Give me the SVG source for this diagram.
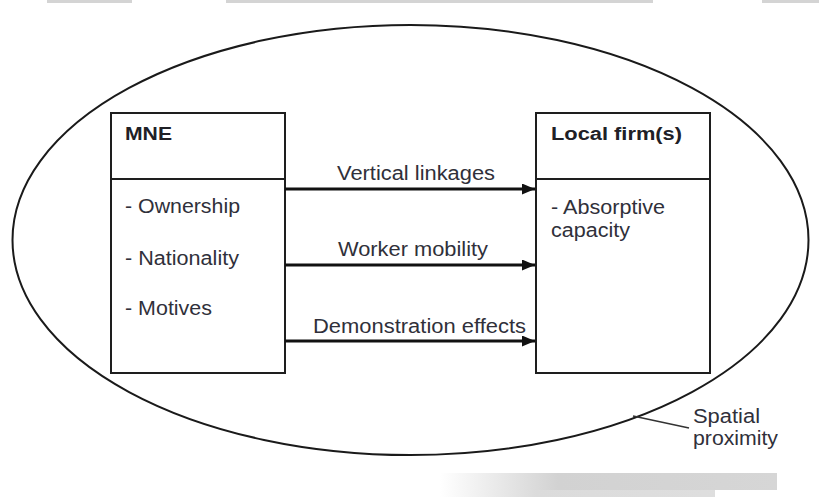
<svg xmlns="http://www.w3.org/2000/svg" width="819" height="497" viewBox="0 0 819 497">
  <style>
    .box { fill: none; stroke: #1e1e1e; stroke-width: 2; }
    .lbl { font-family: "Liberation Sans", Arial, sans-serif; font-size: 20px; fill: #30303a; }
    .hd { font-family: "Liberation Sans", Arial, sans-serif; font-size: 18px; font-weight: bold; fill: #202026; }
    .arrow { stroke: #111; stroke-width: 3; fill: none; marker-end: url(#head); }
  </style>
  <defs>
    <marker id="head" viewBox="0 0 13 11" refX="13" refY="5.5" markerWidth="13" markerHeight="11" markerUnits="userSpaceOnUse" orient="auto">
      <path d="M0,0 L13,5.5 L0,11 Z" fill="#111"/>
    </marker>
    <linearGradient id="shade" x1="0" y1="0" x2="1" y2="0">
      <stop offset="0" stop-color="#d2d2d2" stop-opacity="0"/>
      <stop offset="0.35" stop-color="#d2d2d2" stop-opacity="1"/>
      <stop offset="1" stop-color="#d6d6d6" stop-opacity="1"/>
    </linearGradient>
  </defs>

  <rect width="819" height="497" fill="#fff"/>

  <!-- grey strips along the top edge -->
  <g fill="#d4d4d4">
    <rect x="47" y="0" width="85" height="3"/>
    <rect x="226" y="0" width="427" height="3"/>
    <rect x="762" y="0" width="57" height="3"/>
  </g>

  <!-- shading band at the bottom -->
  <rect x="440" y="473" width="337" height="17" fill="url(#shade)"/>
  <rect x="440" y="490" width="275" height="7" fill="url(#shade)" opacity="0.8"/>

  <!-- spatial proximity boundary -->
  <g id="boundary">
    <ellipse cx="410.5" cy="240" rx="398" ry="215" fill="none" stroke="#1a1a1a" stroke-width="2"/>
    <line x1="633" y1="416" x2="689" y2="428" stroke="#333" stroke-width="1.5"/>
    <text class="lbl" x="693" y="423" textLength="67" lengthAdjust="spacingAndGlyphs">Spatial</text>
    <text class="lbl" x="693" y="445" textLength="85" lengthAdjust="spacingAndGlyphs">proximity</text>
  </g>

  <g id="mne">
    <rect class="box" x="111" y="113" width="174" height="260"/>
    <line class="box" x1="111" y1="179" x2="285" y2="179"/>
    <text class="hd" x="125" y="140" textLength="47" lengthAdjust="spacingAndGlyphs">MNE</text>
    <text class="lbl" x="125" y="213" textLength="115" lengthAdjust="spacingAndGlyphs">- Ownership</text>
    <text class="lbl" x="125" y="265" textLength="114" lengthAdjust="spacingAndGlyphs">- Nationality</text>
    <text class="lbl" x="125" y="315" textLength="87" lengthAdjust="spacingAndGlyphs">- Motives</text>
  </g>

  <g id="local-firms">
    <rect class="box" x="536" y="113" width="174" height="260"/>
    <line class="box" x1="536" y1="179" x2="710" y2="179"/>
    <text class="hd" x="551" y="140" textLength="131" lengthAdjust="spacingAndGlyphs">Local firm(s)</text>
    <text class="lbl" x="551" y="214" textLength="114" lengthAdjust="spacingAndGlyphs">- Absorptive</text>
    <text class="lbl" x="551" y="237" textLength="79" lengthAdjust="spacingAndGlyphs">capacity</text>
  </g>

  <g id="connectors">
    <line class="arrow" x1="285" y1="189" x2="535" y2="189"/>
    <line class="arrow" x1="285" y1="265" x2="535" y2="265"/>
    <line class="arrow" x1="285" y1="341" x2="535" y2="341"/>
    <text class="lbl" x="337" y="180" textLength="158" lengthAdjust="spacingAndGlyphs">Vertical linkages</text>
    <text class="lbl" x="338" y="256" textLength="150" lengthAdjust="spacingAndGlyphs">Worker mobility</text>
    <text class="lbl" x="313" y="333" textLength="213" lengthAdjust="spacingAndGlyphs">Demonstration effects</text>
  </g>
</svg>
